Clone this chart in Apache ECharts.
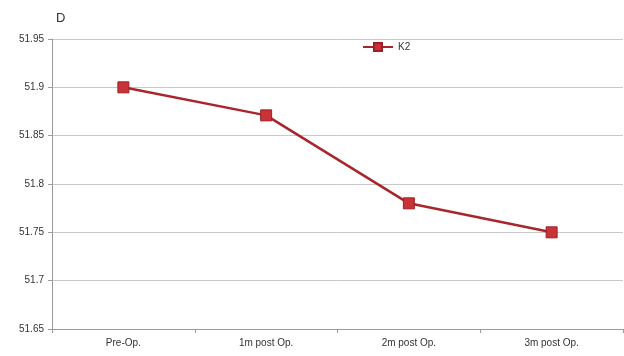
<!DOCTYPE html>
<html>
<head>
<meta charset="utf-8">
<script src="https://cdn.jsdelivr.net/npm/echarts@6/dist/echarts.min.js"></script>
<style>html,body{margin:0;padding:0;background:#fff}#c{width:624px;height:356px}</style>
</head>
<body>
<div id="c"></div>
<script>
var categories = ['Pre-Op.', '1m post Op.', '2m post Op.', '3m post Op.'];
var k2Values = [51.9, 51.871, 51.78, 51.75];
var seriesName = 'K2';
var yAxisName = 'D';

var chart = echarts.init(document.getElementById('c'));
chart.setOption({
  animation: false,
  backgroundColor: '#ffffff',
  grid: { left: 52, right: 1, top: 39, bottom: 27 },
  legend: {
    data: [seriesName],
    left: 357, top: 37,
    itemWidth: 30, itemHeight: 10, itemGap: 4,
    textStyle: { fontFamily: 'Liberation Sans', fontSize: 10, color: '#333' }
  },
  xAxis: {
    type: 'category',
    data: categories,
    boundaryGap: true,
    axisLine: { lineStyle: { color: '#9a9a9a', width: 1 } },
    axisTick: { show: true, length: 4, lineStyle: { color: '#9a9a9a' } },
    axisLabel: { fontFamily: 'Liberation Sans', fontSize: 10, color: '#333', margin: 9 },
    splitLine: { show: false }
  },
  yAxis: {
    type: 'value',
    name: yAxisName,
    nameLocation: 'end',
    nameGap: 14,
    nameTextStyle: { fontFamily: 'Liberation Sans', fontSize: 13, color: '#333', align: 'left', padding: [0, 0, 0, 4] },
    min: 51.65, max: 51.95, interval: 0.05,
    axisLine: { show: true, lineStyle: { color: '#9a9a9a', width: 1 } },
    axisTick: { show: true, length: 4, lineStyle: { color: '#9a9a9a' } },
    axisLabel: { fontFamily: 'Liberation Sans', fontSize: 10, color: '#333', margin: 8,
      formatter: function (v) { return String(parseFloat(v.toFixed(2))); } },
    splitLine: { show: true, lineStyle: { color: '#c8c8c8', width: 1 } }
  },
  series: [{
    name: seriesName,
    type: 'line',
    data: k2Values,
    symbol: 'rect',
    symbolSize: 11,
    lineStyle: { color: '#a8262c', width: 2.5 },
    itemStyle: { color: '#c8333a', borderColor: '#9e2026', borderWidth: 1 }
  }]
});
</script>
</body>
</html>
